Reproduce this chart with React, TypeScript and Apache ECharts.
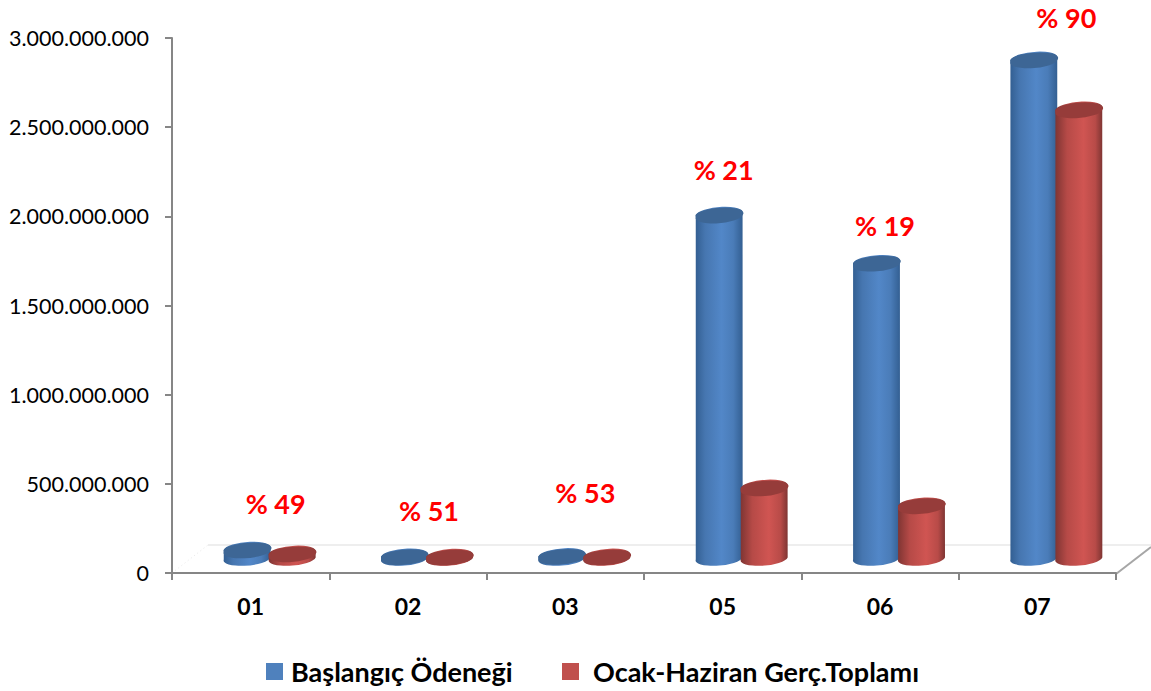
import React, { useEffect, useRef } from "react";
import * as echarts from "echarts";

const categories = ["01", "02", "03", "05", "06", "07"];
const seriesNames = ["Başlangıç Ödeneği", "Ocak-Haziran Gerç.Toplamı"];
const baslangic = [42000000, 4000000, 6000000, 1920000000, 1650000000, 2790000000];
const ocakHaziran = [20000000, 2000000, 3000000, 390000000, 290000000, 2510000000];
const percentLabels = ["% 49", "% 51", "% 53", "% 21", "% 19", "% 90"];
const percentAnchors = [388000000, 353000000, 452000000, 2261000000, 1950000000, 3114000000];
const percentShift = [25, 21, 20, 1, 5, 29];

const FONT = "Lato, Carlito, Calibri, sans-serif";
const AXIS = "#868686";
const DEPTH_X = 19;
const DEPTH_Y = -15.5;
const BAR_SHIFT = 22.5;
const RX = 23.5;
const RY = 7;
const TILT = -5;

const cylinder = (top: string, stops: [number, string][], side: number) => (_p: any, api: any) => {
  const i = api.value(0);
  const [cx0, y0] = api.coord([i, 0]);
  const [, y1] = api.coord([i, api.value(1)]);
  const cx = cx0 + DEPTH_X + side * BAR_SHIFT;
  const by = y0 + DEPTH_Y;
  const ty = y1 + DEPTH_Y;
  const a = (TILT * Math.PI) / 180;
  const dx = RX * Math.cos(a);
  const dy = RX * Math.sin(a);
  const arc = `A ${RX} ${RY} ${TILT} 0 0`;
  const body = `M ${cx - dx} ${ty - dy} L ${cx - dx} ${by - dy} ${arc} ${cx + dx} ${by + dy} L ${cx + dx} ${ty + dy} ${arc} ${cx - dx} ${ty - dy} Z`;
  const cap = `M ${cx - dx} ${ty - dy} ${arc} ${cx + dx} ${ty + dy} ${arc} ${cx - dx} ${ty - dy} Z`;
  return {
    type: "group",
    children: [
      {
        type: "path",
        shape: { pathData: body },
        style: {
          fill: new echarts.graphic.LinearGradient(
            cx - RX, 0, cx + RX, 0,
            stops.map(([offset, color]) => ({ offset, color })),
            true
          ),
        },
      },
      { type: "path", shape: { pathData: cap }, style: { fill: top } },
    ],
  };
};

const blueStops: [number, string][] = [
  [0, "#335f92"], [0.2, "#4676b0"], [0.55, "#5287c8"], [0.8, "#4a7cb8"], [1, "#335f92"],
];
const redStops: [number, string][] = [
  [0, "#7f3533"], [0.25, "#b64a47"], [0.6, "#d05552"], [0.85, "#b84b48"], [1, "#7f3533"],
];

const legendBase = {
  top: 653,
  icon: "rect",
  itemWidth: 17,
  itemHeight: 17,
};
const legendText = { fontFamily: FONT, fontWeight: "bold", fontSize: 27, color: "#000000" };

export default function App() {
  const ref = useRef<HTMLDivElement>(null);
  useEffect(() => {
    document.body.style.margin = "0";
    const chart = echarts.init(ref.current!, null, { renderer: "svg" });
    chart.setOption({
      animation: false,
      backgroundColor: "#ffffff",
      grid: { left: 172, top: 38, width: 944, height: 535, containLabel: false },
      legend: [
        { ...legendBase, data: [seriesNames[0]], left: 261, textStyle: { ...legendText, padding: [0, 0, 0, 3] } },
        { ...legendBase, data: [seriesNames[1]], left: 557, textStyle: { ...legendText, padding: [0, 0, 0, 9] } },
      ],
      xAxis: {
        type: "category",
        data: categories,
        axisLine: { lineStyle: { color: AXIS, width: 2 } },
        axisTick: { show: true, alignWithLabel: false, length: 7, lineStyle: { color: AXIS, width: 2 } },
        axisLabel: { margin: 21, fontFamily: FONT, fontWeight: "bold", fontSize: 23, color: "#000000" },
      },
      yAxis: {
        type: "value",
        min: 0,
        max: 3000000000,
        interval: 500000000,
        splitLine: { show: false },
        axisLine: { show: true, lineStyle: { color: AXIS, width: 2 } },
        axisTick: { show: true, length: 7, lineStyle: { color: AXIS, width: 2 } },
        axisLabel: {
          margin: 23,
          fontFamily: FONT,
          fontSize: 21.5,
          color: "#000000",
          padding: [2, 0, 0, 0],
          formatter: (v: number) => String(v).replace(/\B(?=(\d{3})+(?!\d))/g, "."),
        },
      },
      graphic: [
        { type: "line", silent: true, z: 0, shape: { x1: 208, y1: 545, x2: 1151, y2: 545 }, style: { stroke: "#e8e8e8", lineWidth: 1.5 } },
        { type: "line", silent: true, z: 0, shape: { x1: 172, y1: 573, x2: 208, y2: 545 }, style: { stroke: "#e8e8e8", lineWidth: 1, lineDash: [1, 3] } },
        { type: "line", silent: true, z: 0, shape: { x1: 1116, y1: 574, x2: 1151, y2: 547 }, style: { stroke: "#a6a6a6", lineWidth: 2 } },
      ],
      series: [
        {
          name: seriesNames[0],
          type: "custom",
          coordinateSystem: "cartesian2d",
          itemStyle: { color: "#4f81bd" },
          data: baslangic.map((v, i) => [i, v]),
          encode: { x: 0, y: 1 },
          renderItem: cylinder("#3d6695", blueStops, -1),
          z: 3,
        },
        {
          name: seriesNames[1],
          type: "custom",
          coordinateSystem: "cartesian2d",
          itemStyle: { color: "#c0504d" },
          data: ocakHaziran.map((v, i) => [i, v]),
          encode: { x: 0, y: 1 },
          renderItem: cylinder("#963c3a", redStops, 1),
          z: 4,
        },
        {
          type: "custom",
          coordinateSystem: "cartesian2d",
          data: percentAnchors.map((v, i) => [i, v]),
          encode: { x: 0, y: 1 },
          silent: true,
          z: 5,
          renderItem: (_p: any, api: any) => {
            const i = api.value(0);
            const [x, y] = api.coord([i, api.value(1)]);
            return {
              type: "text",
              x: x + percentShift[i],
              y,
              style: {
                text: percentLabels[i],
                fill: "#ff0000",
                fontFamily: FONT,
                fontWeight: "bold",
                fontSize: 27,
                textAlign: "center",
                textVerticalAlign: "middle",
              },
            };
          },
        },
      ],
    });
    return () => chart.dispose();
  }, []);
  return <div ref={ref} style={{ position: "absolute", left: 0, top: 0, width: 1151, height: 691 }} />;
}
